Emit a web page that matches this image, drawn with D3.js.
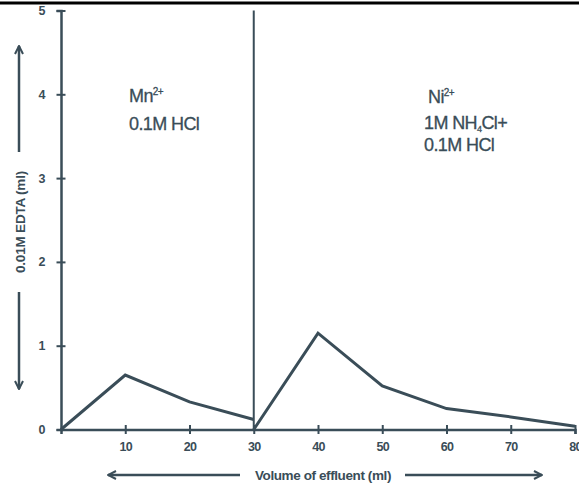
<!DOCTYPE html>
<html>
<head>
<meta charset="utf-8">
<script src="https://cdn.jsdelivr.net/npm/d3@7"></script>
<style>
  body { margin: 0; background: #fff; }
  text { font-family: "Liberation Sans", Arial, sans-serif; fill: #3a4d58; }
</style>
</head>
<body>
<script>
// chart values
var mnVolume = [0, 10, 20, 30];
var mnEdta = [0, 0.65, 0.33, 0.12];
var niVolume = [30, 40, 50, 60, 70, 80];
var niEdta = [0, 1.15, 0.52, 0.25, 0.15, 0.04];
var xTicks = [10, 20, 30, 40, 50, 60, 70, 80];
var yTicks = [0, 1, 2, 3, 4, 5];
var splitAt = 30;

var ink = '#3a4d58';
var W = 579, H = 488;

var svg = d3.select('body').append('svg')
            .attr('width', W)
            .attr('height', H);

var xScale = d3.scaleLinear().domain([0, 80]).range([61, 575]);
var yScale = d3.scaleLinear().domain([0, 5]).range([429.5, 10.5]);

// black rule across the top (page edge)
svg.append('rect')
   .attr('x', 0).attr('y', 1.5)
   .attr('width', W).attr('height', 3)
   .attr('fill', '#000');

// x axis, ticks cross the axis line
var xAxis = d3.axisBottom(xScale).tickValues(xTicks)
              .tickSize(4.5).tickPadding(8).tickFormat(d3.format('d'));
var gX = svg.append('g')
            .attr('transform', 'translate(0,' + yScale(0) + ')')
            .call(xAxis);
gX.select('.domain').attr('stroke', ink).attr('stroke-width', 2.5);
gX.selectAll('.tick line')
  .attr('y1', -4.5)
  .attr('stroke', ink).attr('stroke-width', 2);
gX.selectAll('.tick text')
  .style('font-size', '12.5px').style('font-weight', 'bold').attr('fill', ink)
  .style('letter-spacing', '-0.6px');

// y axis
var yAxis = d3.axisLeft(yScale).tickValues(yTicks)
              .tickSize(4.5).tickPadding(11).tickFormat(d3.format('d'));
var gY = svg.append('g')
            .attr('transform', 'translate(' + xScale(0) + ',0)')
            .call(yAxis);
gY.select('.domain').attr('stroke', ink).attr('stroke-width', 2.5);
gY.selectAll('.tick line')
  .attr('x1', 4.5)
  .attr('stroke', ink).attr('stroke-width', 2);
gY.selectAll('.tick text')
  .style('font-size', '12.5px').style('font-weight', 'bold').attr('fill', ink);

// divider between the two elutions
svg.append('line')
   .attr('x1', xScale(splitAt)).attr('x2', xScale(splitAt))
   .attr('y1', yScale(5)).attr('y2', yScale(0))
   .attr('stroke', ink).attr('stroke-width', 2);

// the curves
var line = d3.line()
             .x(function(d) { return xScale(d[0]); })
             .y(function(d) { return yScale(d[1]); });

[[mnVolume, mnEdta], [niVolume, niEdta]].forEach(function(s) {
  var pts = s[0].map(function(v, i) { return [v, s[1][i]]; });
  svg.append('path')
     .attr('d', line(pts))
     .attr('fill', 'none')
     .attr('stroke', ink)
     .attr('stroke-width', 3)
     .attr('stroke-linejoin', 'miter');
});

// annotations
function label(x, y, parts) {
  var t = svg.append('text')
             .attr('x', x).attr('y', y)
             .style('font-size', '18px')
             .style('letter-spacing', '-0.6px')
             .attr('stroke', ink).attr('stroke-width', 0.3);
  parts.forEach(function(p) {
    var ts = t.append('tspan').text(p.t);
    if (p.sup) ts.attr('dy', -7).style('font-size', '10px');
    if (p.sub) ts.attr('dy', 2.5).style('font-size', '9px');
    if (p.back) ts.attr('dy', p.back);
  });
}
label(129, 102, [{t: 'Mn'}, {t: '2+', sup: true}]);
label(129, 130, [{t: '0.1M HCl'}]);
label(428, 103, [{t: 'Ni'}, {t: '2+', sup: true}]);
label(424, 129, [{t: '1M NH'}, {t: '4', sub: true}, {t: 'Cl+', back: -2.5}]);
label(424, 151, [{t: '0.1M HCl'}]);

// arrow heads
var defs = svg.append('defs');
defs.append('marker')
    .attr('id', 'arrow')
    .attr('viewBox', '0 0 10 10')
    .attr('refX', 9).attr('refY', 5)
    .attr('markerWidth', 4).attr('markerHeight', 4)
    .attr('orient', 'auto')
    .append('path')
    .attr('d', 'M1,1 L9,5 L1,9')
    .attr('fill', 'none')
    .attr('stroke', ink)
    .attr('stroke-width', 2);

function arrow(x1, y1, x2, y2) {
  svg.append('line')
     .attr('x1', x1).attr('y1', y1).attr('x2', x2).attr('y2', y2)
     .attr('stroke', ink).attr('stroke-width', 2.5)
     .attr('marker-end', 'url(#arrow)');
}

// y title
svg.append('text')
   .attr('text-anchor', 'middle')
   .attr('transform', 'translate(24.5,222)rotate(-90)')
   .style('font-size', '13.5px').style('font-weight', 'bold')
   .style('letter-spacing', '-0.2px')
   .text('0.01M EDTA (ml)');
arrow(19, 152, 19, 46);
arrow(19, 292, 19, 389);

// x title
svg.append('text')
   .attr('text-anchor', 'middle')
   .attr('x', 323).attr('y', 480)
   .style('font-size', '13.5px').style('font-weight', 'bold')
   .style('letter-spacing', '-0.4px')
   .text('Volume of effluent (ml)');
arrow(240, 475, 108, 475);
arrow(405, 475, 542, 475);
</script>
</body>
</html>
